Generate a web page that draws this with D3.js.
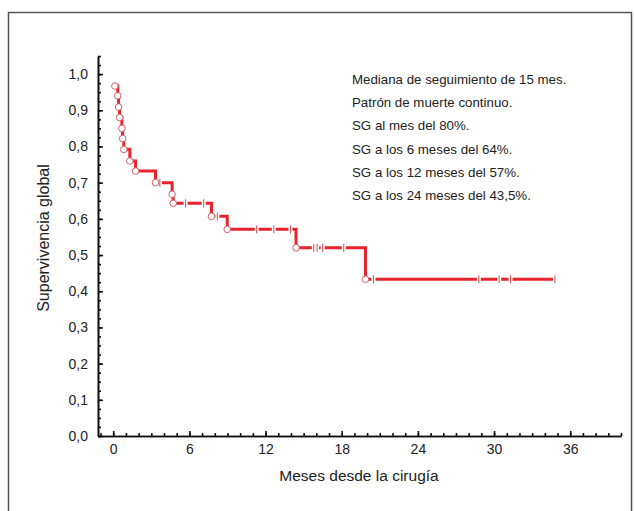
<!DOCTYPE html>
<html>
<head>
<meta charset="utf-8">
<script src="https://cdn.jsdelivr.net/npm/d3@7"></script>
<style>
  body { margin: 0; background: #fff; }
  svg text { font-family: "Liberation Sans", Arial, Helvetica, sans-serif; fill: #222; }
</style>
</head>
<body>
<svg id="chart" width="634" height="511"></svg>
<script>
// ---- data ----
// event times (months) and survival after each event
var eventTimes = [0.13, 0.36, 0.42, 0.5, 0.68, 0.74, 0.83, 1.31, 1.76, 3.33, 4.64, 4.72, 7.74, 8.98, 14.4, 19.87]
var eventSurv  = [0.967, 0.94, 0.909, 0.88, 0.85, 0.822, 0.792, 0.76, 0.732, 0.70, 0.668, 0.643, 0.607, 0.571, 0.52, 0.433]
// censored observations (months)
var censorTimes = [3.67, 5.7, 7.13, 8.2, 11.3, 12.65, 13.96, 15.8, 16.06, 16.5, 18.16, 20.5, 28.8, 30.4, 31.3, 34.8]

var xTicks = [0, 6, 12, 18, 24, 30, 36]
var yTicks = [0, 0.1, 0.2, 0.3, 0.4, 0.5, 0.6, 0.7, 0.8, 0.9, 1.0]

var notes = [
  "Mediana de seguimiento de 15 mes.",
  "Patrón de muerte continuo.",
  "SG al mes del 80%.",
  "SG a los 6 meses del 64%.",
  "SG a los 12 meses del 57%.",
  "SG a los 24 meses del 43,5%."
]

// ---- setup ----
var svg = d3.select('#chart')
var locale = d3.formatLocale({ decimal: ",", thousands: ".", grouping: [3], currency: ["", "€"] })
var fmt = locale.format(".1f")

var x = d3.scaleLinear().domain([-1.2, 40]).range([98, 621])
var y = d3.scaleLinear().domain([0, 1.05]).range([436, 56])

// outer frame
svg.append('rect')
    .attr('x', 8.5).attr('y', 12.5)
    .attr('width', 623).attr('height', 520)
    .attr('fill', 'none')
    .attr('stroke', '#555')
    .attr('stroke-width', 1.5)

// ---- axes ----
var minorX = d3.range(-1, 41, 1)
var minorY = d3.range(0, 1.051, 0.025)

svg.append('g')
    .attr('class', 'axis')
    .attr('transform', 'translate(0,436)')
    .call(d3.axisBottom(x).tickValues(minorX).tickFormat('').tickSizeInner(-3).tickSizeOuter(0))
svg.append('g')
    .attr('class', 'axis')
    .attr('transform', 'translate(0,436)')
    .call(d3.axisBottom(x).tickValues(xTicks).tickFormat(d3.format('d')).tickSizeInner(-5).tickSizeOuter(0).tickPadding(8))

svg.append('g')
    .attr('class', 'axis')
    .attr('transform', 'translate(98,0)')
    .call(d3.axisLeft(y).tickValues(minorY).tickFormat('').tickSizeInner(-3).tickSizeOuter(0))
svg.append('g')
    .attr('class', 'axis')
    .attr('transform', 'translate(98,0)')
    .call(d3.axisLeft(y).tickValues(yTicks).tickFormat(fmt).tickSizeInner(-5).tickSizeOuter(0).tickPadding(10))

svg.selectAll('.axis path').attr('stroke', '#111').attr('stroke-width', 1.6)
svg.selectAll('.axis line').attr('stroke', '#111').attr('stroke-width', 1.6)
svg.selectAll('.axis text').style('font-size', '14px').attr('fill', '#222')

// axis labels
svg.append('text')
    .attr('x', 359)
    .attr('y', 481)
    .attr('text-anchor', 'middle')
    .style('font-size', '15.5px')
    .text('Meses desde la cirugía')

svg.append('text')
    .attr('transform', 'translate(49,238) rotate(-90)')
    .attr('text-anchor', 'middle')
    .style('font-size', '16px')
    .text('Supervivencia global')

// ---- curve ----
var pts = eventTimes.map(function (t, i) { return [t, eventSurv[i]] })
var lastT = d3.max(censorTimes)
pts.push([lastT, eventSurv[eventSurv.length - 1]])

function survAt(t) {
    var s = 1
    eventTimes.forEach(function (et, i) { if (et <= t) s = eventSurv[i] })
    return s
}

var line = d3.line()
    .x(function (d) { return x(d[0]) })
    .y(function (d) { return y(d[1]) })
    .curve(d3.curveStepAfter)

svg.append('path')
    .datum(pts)
    .attr('d', line)
    .attr('fill', 'none')
    .attr('stroke', '#e8232b')
    .attr('stroke-width', 3)

// censor marks (small gap + tick)
var cens = svg.append('g')
cens.selectAll('rect')
    .data(censorTimes)
    .enter()
    .append('rect')
    .attr('x', function (d) { return x(d) - 2 })
    .attr('y', function (d) { return y(survAt(d)) - 2.5 })
    .attr('width', 4)
    .attr('height', 5)
    .attr('fill', '#fff')
cens.selectAll('line')
    .data(censorTimes)
    .enter()
    .append('line')
    .attr('x1', function (d) { return x(d) })
    .attr('x2', function (d) { return x(d) })
    .attr('y1', function (d) { return y(survAt(d)) - 4 })
    .attr('y2', function (d) { return y(survAt(d)) + 4 })
    .attr('stroke', '#d5505a')
    .attr('stroke-width', 1)

// event circles
svg.selectAll('circle.ev')
    .data(eventTimes)
    .enter()
    .append('circle')
    .attr('class', 'ev')
    .attr('cx', function (d) { return x(d) })
    .attr('cy', function (d, i) { return y(eventSurv[i]) })
    .attr('r', 3.3)
    .attr('fill', '#fff')
    .attr('stroke', '#d0606a')
    .attr('stroke-width', 1)

// ---- notes ----
svg.selectAll('text.note')
    .data(notes)
    .enter()
    .append('text')
    .attr('class', 'note')
    .attr('x', 352)
    .attr('y', function (d, i) { return 84 + i * 23.2 })
    .style('font-size', '13.3px')
    .text(function (d) { return d })
</script>
</body>
</html>
